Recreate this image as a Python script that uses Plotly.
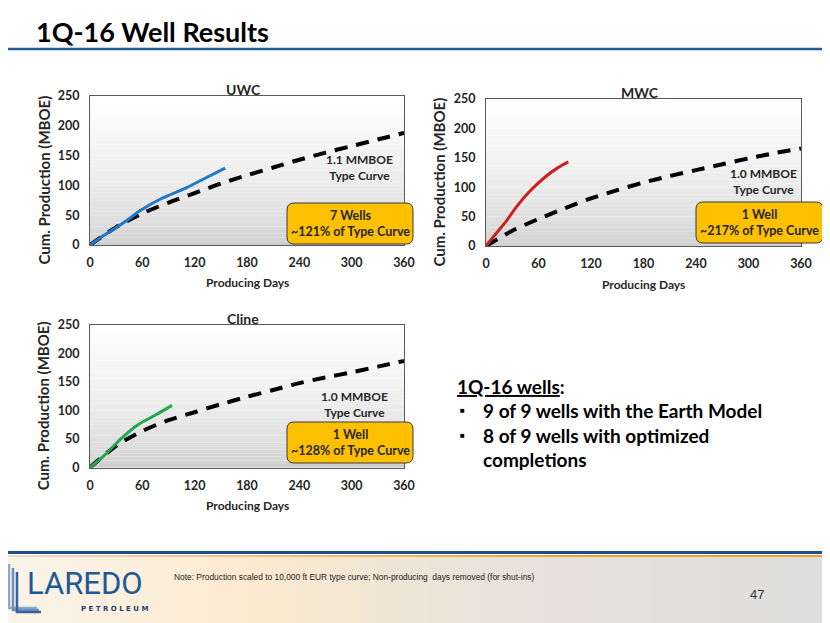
import plotly.graph_objects as go

W, H = 830, 623
OFF = 8  # page body margin offset

# ---------------- data ----------------
day_ticks = [0, 60, 120, 180, 240, 300, 360]
prod_ticks = [0, 50, 100, 150, 200, 250]

uwc_actual_days = [0, 17, 40, 59, 82, 109, 132, 155]
uwc_actual = [0, 17, 39, 59, 78, 95, 112, 129]
uwc_type_days = [0, 30, 60, 90, 120, 150, 180, 210, 240, 270, 300, 330, 360]
uwc_type = [0, 30, 53, 71, 87, 103, 117, 130, 143, 155, 166, 177, 188]

mwc_actual_days = [0, 12, 24, 35, 50, 69, 81, 94]
mwc_actual = [0, 22, 44, 67, 93, 119, 132, 143]
mwc_type_days = [0, 30, 60, 90, 120, 150, 180, 210, 240, 270, 300, 330, 360]
mwc_type = [0, 26, 46, 64, 81, 95, 108, 119, 129, 139, 149, 158, 166]

cline_actual_days = [0, 17, 36, 55, 75, 94]
cline_actual = [0, 22, 51, 75, 92, 109]
cline_type_days = [0, 30, 60, 90, 120, 150, 180, 210, 240, 270, 300, 330, 360]
cline_type = [0, 38, 64, 83, 97, 111, 124, 136, 148, 158, 167, 177, 187]

panel_names = ["UWC", "MWC", "Cline"]
type_labels = ["1.1 MMBOE<br>Type Curve", "1.0 MMBOE<br>Type Curve", "1.0 MMBOE<br>Type Curve"]
box_labels = ["7 Wells<br>~121% of Type Curve", "1 Well<br>~217% of Type Curve", "1 Well<br>~128% of Type Curve"]
colors = ["#1F78C8", "#CC1F1F", "#22AA4A"]

FONT = "Lato, Calibri, Open Sans, sans-serif"
TXT = "#262626"

def px(x):
    return (x - OFF) / W

def py(y):
    return 1 - (y - OFF) / H

def ann(x, y, text, size, color=TXT, xanchor="center", yanchor="middle", family=FONT, **kw):
    return dict(x=px(x), y=py(y), xref="paper", yref="paper", text=text, showarrow=False,
                xanchor=xanchor, yanchor=yanchor,
                font=dict(family=family, size=size, color=color), **kw)

# panel pixel boxes: left, right, top, bottom
panels = [
    (90, 404, 96, 245),
    (486, 801, 99, 246),
    (90, 404, 325, 467.5),
]

fig = go.Figure()
series = [
    (uwc_actual_days, uwc_actual, uwc_type_days, uwc_type),
    (mwc_actual_days, mwc_actual, mwc_type_days, mwc_type),
    (cline_actual_days, cline_actual, cline_type_days, cline_type),
]

shapes = []
annotations = []
layout = {}

for i, (ad, av, td, tv) in enumerate(series):
    xa = "x" if i == 0 else f"x{i+1}"
    ya = "y" if i == 0 else f"y{i+1}"
    fig.add_trace(go.Scatter(x=td, y=tv, mode="lines", xaxis=xa, yaxis=ya,
                             line=dict(color="black", width=4, dash="13px,9px", shape="spline", smoothing=0.8),
                             showlegend=False, hoverinfo="skip"))
    fig.add_trace(go.Scatter(x=ad, y=av, mode="lines", xaxis=xa, yaxis=ya,
                             line=dict(color=colors[i], width=3, shape="spline", smoothing=0.8),
                             showlegend=False, hoverinfo="skip"))
    l, r, t, b = panels[i]
    axcommon = dict(showgrid=False, zeroline=False, showline=True, mirror=True,
                    linecolor="#595959", linewidth=1, ticks="", automargin=False,
                    tickfont=dict(family=FONT, size=12.5, color=TXT, weight="bold"))
    layout["xaxis" if i == 0 else f"xaxis{i+1}"] = dict(
        domain=[px(l), px(r)], range=[0, 360], tickvals=day_ticks, anchor=ya,
        ticklabelstandoff=6, **axcommon)
    layout["yaxis" if i == 0 else f"yaxis{i+1}"] = dict(
        domain=[py(b), py(t)], range=[0, 250], tickvals=prod_ticks, anchor=xa,
        ticklabelstandoff=7, **axcommon)
    # gradient background stripes
    n = 40
    for k in range(n):
        f0 = k / n
        f1 = (k + 1) / n
        tm = (f0 + f1) / 2
        g = int(round(202 + 53 * (tm ** 0.55)))
        shapes.append(dict(type="rect", xref=f"{xa} domain", yref=f"{ya} domain",
                           x0=0, x1=1, y0=f0, y1=f1, layer="below",
                           fillcolor=f"rgb({g},{g},{g})", line=dict(width=0)))
    cx = (l + r) / 2
    annotations.append(ann(cx - 4, t - 7, f"<b>{panel_names[i]}</b>", 14))
    annotations.append(ann(cx, b + 38, "<b>Producing Days</b>", 12))
    annotations.append(ann(l - 47, (t + b) / 2 + 10, "<b>Cum. Production (MBOE)</b>", 15, textangle=-90))

# type curve labels
tc_pos = [(359, 168), (763, 181), (354, 404)]
for i, (x, y) in enumerate(tc_pos):
    annotations.append(ann(x, y, f"<b>{type_labels[i]}</b>", 12, align="center"))

# orange rounded boxes
boxes = [(287, 413, 203, 244), (696, 823, 202, 243), (287, 413, 422, 463)]

def rounded(x0, x1, y0, y1, r=7):
    X0, X1 = px(x0), px(x1)
    Y0, Y1 = py(y1), py(y0)  # Y0 bottom, Y1 top
    rx, ry = r / W, r / H
    return (f"M{X0+rx},{Y1} L{X1-rx},{Y1} Q{X1},{Y1} {X1},{Y1-ry} "
            f"L{X1},{Y0+ry} Q{X1},{Y0} {X1-rx},{Y0} L{X0+rx},{Y0} "
            f"Q{X0},{Y0} {X0},{Y0+ry} L{X0},{Y1-ry} Q{X0},{Y1} {X0+rx},{Y1} Z")

for i, (x0, x1, y0, y1) in enumerate(boxes):
    shapes.append(dict(type="path", xref="paper", yref="paper", path=rounded(x0, x1, y0, y1),
                       fillcolor="#FFC000", line=dict(color="#3A3A3A", width=1), layer="above"))
    annotations.append(ann((x0 + x1) / 2, (y0 + y1) / 2, f"<b>{box_labels[i]}</b>", 12.5, align="center"))

# page title and rule
annotations.append(ann(34, 31, "<b>1Q-16 Well Results</b>", 27, color="black", xanchor="left"))
shapes.append(dict(type="line", xref="paper", yref="paper", x0=-0.02, x1=1.02, y0=py(49), y1=py(49),
                   line=dict(color="#1F5C99", width=2.5)))

# right text block
annotations.append(ann(455, 386, "<b><u>1Q-16 wells</u>:</b>", 19, color="black", xanchor="left"))
bullets = [(410, "9 of 9 wells with the Earth Model"), (435, "8 of 9 wells with optimized")]
for y, txt in bullets:
    annotations.append(ann(458, y, "■", 8, color="black", xanchor="left"))
    annotations.append(ann(481, y, f"<b>{txt}</b>", 19, color="black", xanchor="left"))
annotations.append(ann(481, 459, "<b>completions</b>", 19, color="black", xanchor="left"))

# footer background gradient
def lerp(a, b, t):
    return tuple(int(round(a[k] + (b[k] - a[k]) * t)) for k in range(3))

stops = [(0, (250, 244, 234)), (0.3, (252, 234, 208)), (0.6, (232, 226, 218)), (1.0, (222, 222, 222))]
nf = 60
for k in range(nf):
    t = (k + 0.5) / nf
    for j in range(len(stops) - 1):
        if stops[j][0] <= t <= stops[j + 1][0]:
            tt = (t - stops[j][0]) / (stops[j + 1][0] - stops[j][0])
            c = lerp(stops[j][1], stops[j + 1][1], tt)
            break
    shapes.append(dict(type="rect", xref="paper", yref="paper", x0=px(k * W / nf), x1=px((k + 1) * W / nf) + 0.002,
                       y0=0, y1=py(555), fillcolor=f"rgb{c}", line=dict(width=0), layer="below"))
# footer rules
shapes.append(dict(type="line", xref="paper", yref="paper", x0=-0.02, x1=1.02, y0=py(552.5), y1=py(552.5),
                   line=dict(color="#1B4F8E", width=3)))
ns = 20
for k in range(ns):
    t = (k + 0.5) / ns
    c = lerp((240, 220, 190), (240, 160, 40), min(1, t * 1.4))
    shapes.append(dict(type="line", xref="paper", yref="paper", x0=px(k * W / ns), x1=px((k + 1) * W / ns),
                       y0=py(556), y1=py(556), line=dict(color=f"rgb{c}", width=2)))

# logo
LOGO = "#1E5A96"
for j, (x0, c) in enumerate([(9, "#8FA9C9"), (13, "#6F8FB8"), (17, "#2E64A0")]):
    shapes.append(dict(type="path", xref="paper", yref="paper",
                       path=f"M{px(x0)},{py(564 + j*4)} L{px(x0)},{py(612 - (2-j)*2)} L{px(x0 + 28 - j*2)},{py(612 - (2-j)*2)}",
                       line=dict(color=c, width=2.5)))
annotations.append(ann(25, 583, "LAREDO", 31, color=LOGO, xanchor="left",
                       family="Roboto, DejaVu Sans, sans-serif"))
annotations.append(ann(150, 609, "<b>P E T R O L E U M</b>", 7, color="#1E3F6E", xanchor="right",
                       family="DejaVu Sans, sans-serif"))

annotations.append(ann(172, 577,
                       "Note: Production scaled to 10,000 ft EUR type curve; Non-producing  days removed (for shut-ins)",
                       8.4, color="#222222", xanchor="left",
                       family="Liberation Sans Narrow, Liberation Sans, sans-serif"))
annotations.append(ann(757, 594, "47", 13, color="#333333",
                       family="Liberation Sans Narrow, Liberation Sans, sans-serif"))

fig.update_layout(width=W, height=H, margin=dict(l=0, r=0, t=0, b=0, pad=0, autoexpand=False),
                  paper_bgcolor="white", plot_bgcolor="white",
                  shapes=shapes, annotations=annotations, showlegend=False, **layout)
fig.write_html("out.html")
